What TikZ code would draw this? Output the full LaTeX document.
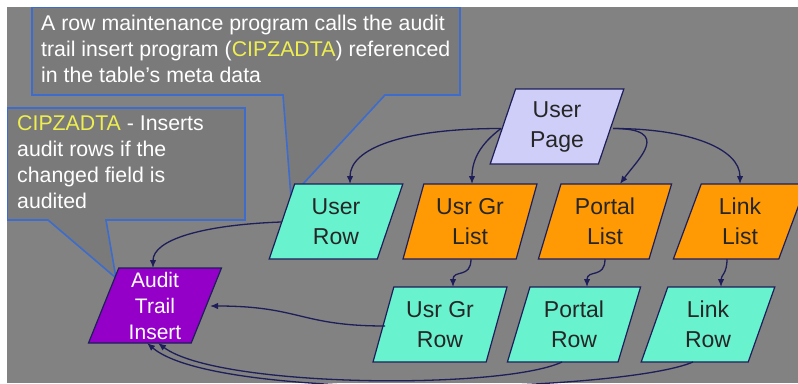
\documentclass[tikz,border=0pt]{standalone}
\usepackage{fontspec}
\setmainfont{Liberation Sans}
\usetikzlibrary{shapes.geometric,arrows.meta,calc}

\definecolor{bggray}{HTML}{828282}
\definecolor{notegray}{HTML}{7A7A7A}
\definecolor{noteblue}{HTML}{3D6CCC}
\definecolor{navy}{HTML}{1E1E5A}
\definecolor{lav}{HTML}{CECEF8}
\definecolor{aqua}{HTML}{68F2CE}
\definecolor{orng}{HTML}{FF9A05}
\definecolor{purp}{HTML}{9400C8}
\definecolor{ylw}{HTML}{EEEE50}
\definecolor{boxtext}{HTML}{262626}

\begin{document}
\begin{tikzpicture}[x=1pt,y=-1pt,
  box/.style={trapezium, trapezium left angle=72, trapezium right angle=108,
    trapezium stretches=true, minimum width=134pt, minimum height=75pt,
    draw=navy, line width=1.2pt, inner sep=1pt, align=center,
    font=\fontsize{23}{30}\selectfont, text=boxtext},
  link/.style={draw=navy, line width=1.3pt, -{Latex[length=8pt,width=6.5pt]}},
  note/.style={draw=noteblue, line width=1.6pt, fill=notegray, line join=miter},
  notetext/.style={anchor=base west, align=left, inner sep=0pt,
    font=\fontsize{21.3}{26}\selectfont, text=white}
]
\useasboundingbox (0,0) rectangle (798,383);
\fill[white] (0,0) rectangle (798,383);
\clip (7,7) rectangle (798,383);
\fill[bggray] (7,7) rectangle (798,383);

% callout boxes with their pointers
\draw[note] (32,7) -- (460,7) -- (460,95) -- (385,95) -- (291,197)
  -- (283,95) -- (32,95) -- cycle;
\draw[note] (7,108) -- (245,108) -- (245,220) -- (106,220) -- (116,278)
  -- (48,220) -- (7,220) -- cycle;

% callout texts, placed by the baseline of their last line
\node[notetext] (note1) at (41,82)
  {A row maintenance program calls the audit\\
   trail insert program (\textcolor{ylw}{CIPZADTA}) referenced\\
   in the table's meta data};
\node[notetext] (note2) at (17,208)
  {\textcolor{ylw}{CIPZADTA} - Inserts\\
   audit rows if the\\
   changed field is\\
   audited};

% program nodes
\node[box, fill=lav]  (up)  at (557,126.5) {User\\Page};
\node[box, fill=aqua] (ur)  at (336,221.5) {User\\Row};
\node[box, fill=orng] (ugl) at (470,221.5) {Usr Gr\\List};
\node[box, fill=orng] (pl)  at (605,221.5) {Portal\\List};
\node[box, fill=orng] (ll)  at (740,221.5) {Link\\List};
\node[box, fill=aqua] (ugr) at (440,324.5) {Usr Gr\\Row};
\node[box, fill=aqua] (pr)  at (574,324.5) {Portal\\Row};
\node[box, fill=aqua] (lr)  at (708,324.5) {Link\\Row};
\node[box, fill=purp, text=white, inner sep=0pt,
      font=\fontsize{21}{26}\selectfont] (ati) at (155,305.5) {Audit\\Trail\\Insert};

% calls from the user page
\draw[link] ([shift={(-56,2)}]up.center) .. controls +(-100,0) and +(0,-35)
  .. ([shift={(14,-37.5)}]ur.center);
\draw[link] ([shift={(-56,2)}]up.center) .. controls +(-20,15) and +(0,-25)
  .. ([shift={(2,-37.5)}]ugl.center);
\draw[link] ([shift={(56,2)}]up.center) .. controls +(60,0) and +(18,-25)
  .. ([shift={(15,-37.5)}]pl.center);
\draw[link] ([shift={(56,2)}]up.center) .. controls +(77,0) and +(0,-35)
  .. ([shift={(0,-37.5)}]ll.center);

% lists to rows
\draw[link] ([shift={(1,37.5)}]ugl.center) .. controls +(0,20) and +(0,-18)
  .. ([shift={(13,-37.5)}]ugr.center);
\draw[link] ([shift={(0,37.5)}]pl.center) .. controls +(0,20) and +(0,-18)
  .. ([shift={(13,-37.5)}]pr.center);
\draw[link] ([shift={(-13,37.5)}]ll.center) .. controls +(0,15) and +(0,-12)
  .. ([shift={(13,-37.5)}]lr.center);

% rows to the audit trail insert
\draw[link] ([shift={(-55,0.5)}]ur.center) .. controls +(-80,3) and +(0,-28)
  .. ([shift={(-2,-37.5)}]ati.center);
\draw[link] ([shift={(-55,1.5)}]ugr.center) .. controls +(-85,0) and +(90,0)
  .. ([shift={(55,0.5)}]ati.center);
\draw[link] ([shift={(-12,37.5)}]pr.center) .. controls +(-60,28) and +(60,45)
  .. ([shift={(3,37.5)}]ati.center);
\draw[link] ([shift={(-15,37.5)}]lr.center) .. controls +(-70,30) and +(70,60)
  .. ([shift={(-8,37.5)}]ati.center);
\end{tikzpicture}
\end{document}
